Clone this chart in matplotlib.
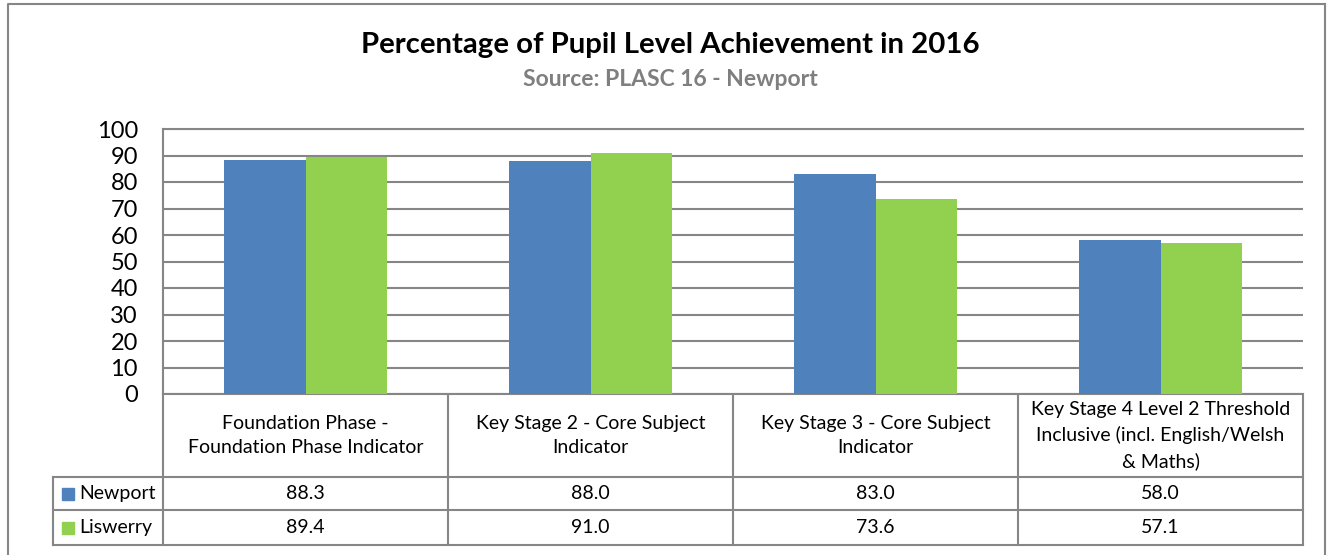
import matplotlib
matplotlib.use('Agg')
import matplotlib.pyplot as plt
import numpy as np

categories = ['Foundation Phase -\nFoundation Phase Indicator',
              'Key Stage 2 - Core Subject\nIndicator',
              'Key Stage 3 - Core Subject\nIndicator',
              'Key Stage 4 Level 2 Threshold\nInclusive (incl. English/Welsh\n& Maths)']
series_names = ['Newport', 'Liswerry']
newport = [88.3, 88.0, 83.0, 58.0]
liswerry = [89.4, 91.0, 73.6, 57.1]
colors = ['#4F81BD', '#92D050']

plt.rcParams['font.family'] = ['Lato', 'DejaVu Sans']

W, H = 1332, 555
fig = plt.figure(figsize=(W / 100, H / 100), dpi=100)

# pixel layout
px_l, px_r, px_t, px_b = 163, 1303, 129, 394
leg_l = 53
row_y = [394, 477, 510, 545]

ax = fig.add_axes([px_l / W, 1 - px_b / H, (px_r - px_l) / W, (px_b - px_t) / H])
x = np.arange(len(categories))
bw = 0.285
ax.bar(x - bw / 2, newport, bw, color=colors[0], zorder=3)
ax.bar(x + bw / 2, liswerry, bw, color=colors[1], zorder=3)
ax.set_xlim(-0.5, len(categories) - 0.5)
ax.set_ylim(0, 100)
ax.set_yticks(range(0, 101, 10))
ax.tick_params(axis='y', length=0, pad=18, labelsize=17)
ax.tick_params(axis='x', length=0, labelbottom=False)
ax.grid(axis='y', color='#868686', linewidth=1.5, zorder=0)
for s in ax.spines.values():
    s.set_color('#868686')
    s.set_linewidth(1.5)
ax.spines['right'].set_visible(False)

# overlay for table, titles and frame
ov = fig.add_axes([0, 0, 1, 1], zorder=-1)
ov.set_xlim(0, W)
ov.set_ylim(H, 0)
ov.axis('off')
ov.patch.set_alpha(0)

ov.plot([8, 1325, 1325], [560, 560, 4], color='#868686', lw=1.5)
ov.plot([8, 8, 1325], [560, 4, 4], color='#868686', lw=1.5)

ov.text(W / 2 + 4, 45, 'Percentage of Pupil Level Achievement in 2016',
        ha='center', va='center', fontsize=21.2, fontweight='bold', color='black')
ov.text(W / 2 + 4, 80, 'Source: PLASC 16 - Newport',
        ha='center', va='center', fontsize=16.5, fontweight='bold', color='#7F7F7F')

n = len(categories)
cw = (px_r - px_l) / n
lc = '#868686'
# vertical lines
for i in range(n + 1):
    xv = px_l + i * cw
    ov.plot([xv, xv], [row_y[0], row_y[3]], color=lc, lw=1.5)
ov.plot([leg_l, leg_l], [row_y[1], row_y[3]], color=lc, lw=1.5)
for yv in row_y[1:]:
    ov.plot([leg_l, px_r], [yv, yv], color=lc, lw=1.5)

for i, cat in enumerate(categories):
    cx = px_l + (i + 0.5) * cw
    ov.text(cx, (row_y[0] + row_y[1]) / 2, cat, ha='center', va='center',
            fontsize=14, linespacing=1.55)
    for r, vals in enumerate([newport, liswerry]):
        ov.text(cx, (row_y[r + 1] + row_y[r + 2]) / 2, f'{vals[i]:.1f}',
                ha='center', va='center', fontsize=14)

for r, name in enumerate(series_names):
    yc = (row_y[r + 1] + row_y[r + 2]) / 2
    ov.add_patch(plt.Rectangle((62, yc - 6), 12, 12, color=colors[r]))
    ov.text(79, yc, name, ha='left', va='center', fontsize=14)

fig.savefig('out.png', dpi=100)
